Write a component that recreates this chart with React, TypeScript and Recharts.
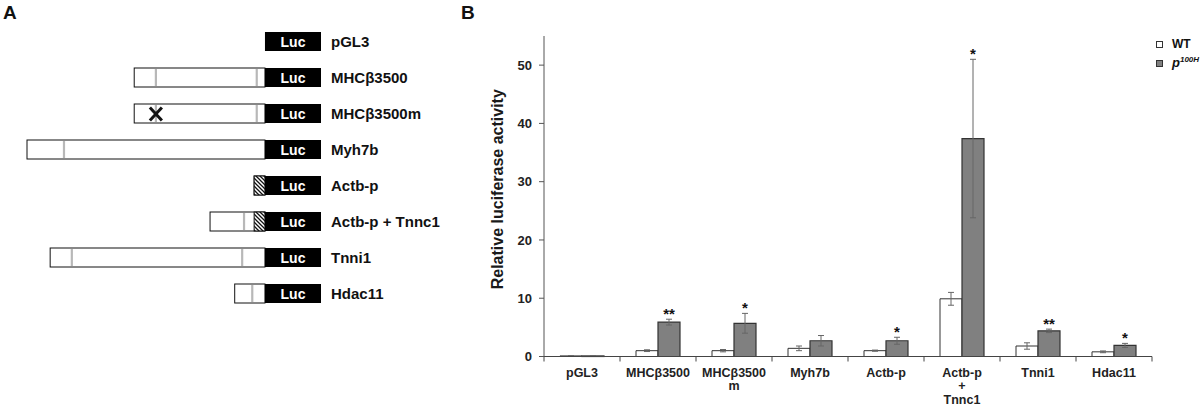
import React from 'react';
import { BarChart, Bar, XAxis, YAxis, ErrorBar, LabelList } from 'recharts';

const FONT = '"Liberation Sans", Arial, Helvetica, sans-serif';

// ---- panel A: reporter constructs, positions in kb relative to the Luc start ----
const constructNames = ['pGL3', 'MHCβ3500', 'MHCβ3500m', 'Myh7b', 'Actb-p', 'Actb-p + Tnnc1', 'Tnni1', 'Hdac11'];
const promoterStart = [0, -3.5, -3.5, -6.37, -0.29, -1.47, -5.75, -0.81];
const lucLength = 1.5;
const hatchStart = [null, null, null, null, -0.29, -0.29, null, null];
const grayMarks = [[], [-2.92, -0.22], [-2.92, -0.22], [-5.38], [], [-0.56], [-5.17, -0.61], [-0.34]];
const mutationMarks = [[], [], [-2.92], [], [], [], [], []];

// ---- panel B: relative luciferase activity ----
const categories = ['pGL3', 'MHCβ3500', 'MHCβ3500\nm', 'Myh7b', 'Actb-p', 'Actb-p\n+\nTnnc1', 'Tnni1', 'Hdac11'];
const wtMean = [0.1, 1.0, 1.0, 1.4, 1.0, 9.9, 1.8, 0.8];
const wtErr = [0.02, 0.15, 0.2, 0.4, 0.1, 1.1, 0.55, 0.15];
const p100hMean = [0.1, 5.9, 5.7, 2.7, 2.7, 37.4, 4.4, 1.9];
const p100hErr = [0.02, 0.5, 1.7, 0.9, 0.6, 13.6, 0.3, 0.35];
const significance = ['', '**', '*', '', '*', '*', '**', '*'];
const yTicks = [0, 10, 20, 30, 40, 50];

const constructRows = constructNames.map((name, i) => ({
  name,
  range: [promoterStart[i], lucLength],
  idx: i,
}));

const barData = categories.map((cat, i) => ({
  cat,
  wt: wtMean[i],
  wtErr: wtErr[i],
  p: p100hMean[i],
  pErr: p100hErr[i],
  sig: significance[i],
}));

function ConstructShape(props: any) {
  const { x, y, width, height, payload } = props;
  const [start, end] = payload.range;
  const k = width / (end - start);
  const px = (v: number) => x + (v - start) * k;
  const i = payload.idx;
  const x0 = px(0);
  const xe = px(end);
  const cy = y + height / 2;
  const hs = hatchStart[i];
  return (
    <g>
      {start < 0 && (
        <rect x={px(start)} y={y} width={x0 - px(start)} height={height} fill="#fff" stroke="#111" strokeWidth={1} />
      )}
      {grayMarks[i].map((m) => (
        <line key={m} x1={px(m)} x2={px(m)} y1={y + 1} y2={y + height - 1} stroke="#b8b8b8" strokeWidth={2.2} />
      ))}
      {hs != null && (
        <rect x={px(hs)} y={y} width={x0 - px(hs)} height={height} fill="url(#hatch)" stroke="#111" strokeWidth={1} />
      )}
      {mutationMarks[i].map((m) => (
        <g key={m} stroke="#111" strokeWidth={3}>
          <line x1={px(m) - 6} y1={cy - 6} x2={px(m) + 6} y2={cy + 7} />
          <line x1={px(m) + 6} y1={cy - 6} x2={px(m) - 6} y2={cy + 7} />
        </g>
      ))}
      <rect x={x0} y={y} width={xe - x0} height={height} fill="#000" />
      <text x={(x0 + xe) / 2} y={cy + 5} textAnchor="middle" fill="#fff" fontSize={14} fontWeight="bold" fontFamily={FONT}>
        Luc
      </text>
      <text x={xe + 10} y={cy + 5} fill="#111" fontSize={15} fontWeight="bold" fontFamily={FONT}>
        {payload.name}
      </text>
    </g>
  );
}

function CategoryTick(props: any) {
  const { x, y, payload } = props;
  const half = payload && payload.offset ? payload.offset : 38;
  const axisY = y - 5;
  const lines = String(payload.value).split('\n');
  return (
    <g>
      {payload.index === 0 && <line x1={x - half} x2={x - half} y1={axisY} y2={axisY + 5} stroke="#444" />}
      <line x1={x + half} x2={x + half} y1={axisY} y2={axisY + 5} stroke="#444" />
      <text x={x} y={axisY + 20} textAnchor="middle" fill="#222" fontSize={12.5} fontWeight="bold" fontFamily={FONT}>
        {lines.map((l, j) => (
          <tspan key={j} x={x} dy={j === 0 ? 0 : 13.5}>
            {l}
          </tspan>
        ))}
      </text>
    </g>
  );
}

function StarLabel(props: any) {
  const { x, y, width, height, value, index } = props;
  if (!value) return null;
  const perUnit = height / p100hMean[index];
  const errTop = y - p100hErr[index] * perUnit;
  return (
    <text x={x + width / 2} y={errTop} textAnchor="middle" fill="#111" fontSize={15} fontWeight="bold" fontFamily={FONT}>
      {value}
    </text>
  );
}

function YLabel(props: any) {
  const { viewBox } = props;
  const cx = viewBox.x + 3;
  const cy = viewBox.y + viewBox.height / 2 - 7;
  return (
    <text
      x={cx}
      y={cy}
      transform={`rotate(-90, ${cx}, ${cy})`}
      textAnchor="middle"
      dominantBaseline="central"
      fill="#1a1a1a"
      fontSize={16}
      fontWeight="bold"
      fontFamily={FONT}
    >
      Relative luciferase activity
    </text>
  );
}

export default function App() {
  return (
    <div style={{ position: 'absolute', left: 0, top: 0, width: 1200, height: 408, background: '#fff', fontFamily: FONT }}>
      <div style={{ position: 'absolute', left: 3, top: 2, fontSize: 19, fontWeight: 'bold', color: '#111' }}>A</div>
      <div style={{ position: 'absolute', left: 461, top: 2, fontSize: 19, fontWeight: 'bold', color: '#111' }}>B</div>

      <div style={{ position: 'absolute', left: 0, top: 0 }}>
        <BarChart
          width={470}
          height={330}
          layout="vertical"
          data={constructRows}
          margin={{ top: 23, right: 149, bottom: 19, left: 27 }}
        >
          <defs>
            <pattern id="hatch" width="4" height="4" patternUnits="userSpaceOnUse">
              <rect width="4" height="4" fill="#fff" />
              <path d="M-1,-1 L5,5 M-1,3 L1,5 M3,-1 L5,1" stroke="#111" strokeWidth={1.3} />
            </pattern>
          </defs>
          <XAxis type="number" domain={[-6.37, 1.5]} hide />
          <YAxis type="category" dataKey="name" hide />
          <Bar dataKey="range" barSize={19} isAnimationActive={false} shape={<ConstructShape />} />
        </BarChart>
      </div>

      <div style={{ position: 'absolute', left: 470, top: 0 }}>
        <BarChart
          width={730}
          height={408}
          data={barData}
          margin={{ top: 36, right: 48, bottom: 1.5, left: 24 }}
          barGap={0}
          barSize={22}
        >
          <XAxis
            dataKey="cat"
            height={50}
            interval={0}
            axisLine={{ stroke: '#444' }}
            tickLine={false}
            tickSize={5}
            tickMargin={0}
            tick={<CategoryTick />}
          />
          <YAxis
            domain={[0, 55]}
            ticks={yTicks}
            width={50}
            axisLine={{ stroke: '#555' }}
            tickLine={{ stroke: '#555' }}
            tickSize={5}
            tickMargin={7}
            tick={{ fill: '#222', fontSize: 13, fontWeight: 'bold', fontFamily: FONT }}
            label={<YLabel />}
          />
          <Bar dataKey="wt" fill="#fff" stroke="#333" strokeWidth={1} isAnimationActive={false}>
            <ErrorBar dataKey="wtErr" width={3} stroke="#666" strokeWidth={1} direction="y" />
          </Bar>
          <Bar dataKey="p" fill="#808080" stroke="#333" strokeWidth={1.2} isAnimationActive={false}>
            <ErrorBar dataKey="pErr" width={3} stroke="#666" strokeWidth={1} direction="y" />
            <LabelList dataKey="sig" content={<StarLabel />} />
          </Bar>
        </BarChart>
      </div>

      <div style={{ position: 'absolute', left: 1156, top: 36, fontSize: 12, fontWeight: 'bold', color: '#111' }}>
        <div style={{ display: 'flex', alignItems: 'center', height: 16 }}>
          <span style={{ display: 'inline-block', width: 5, height: 5, border: '1px solid #333', background: '#fff', marginRight: 9 }} />
          WT
        </div>
        <div style={{ display: 'flex', alignItems: 'center', height: 22 }}>
          <span style={{ display: 'inline-block', width: 5, height: 5, border: '1px solid #333', background: '#808080', marginRight: 9 }} />
          <span style={{ fontStyle: 'italic', fontSize: 13 }}>
            p<sup style={{ fontSize: 8 }}>100H</sup>
          </span>
        </div>
      </div>
    </div>
  );
}
